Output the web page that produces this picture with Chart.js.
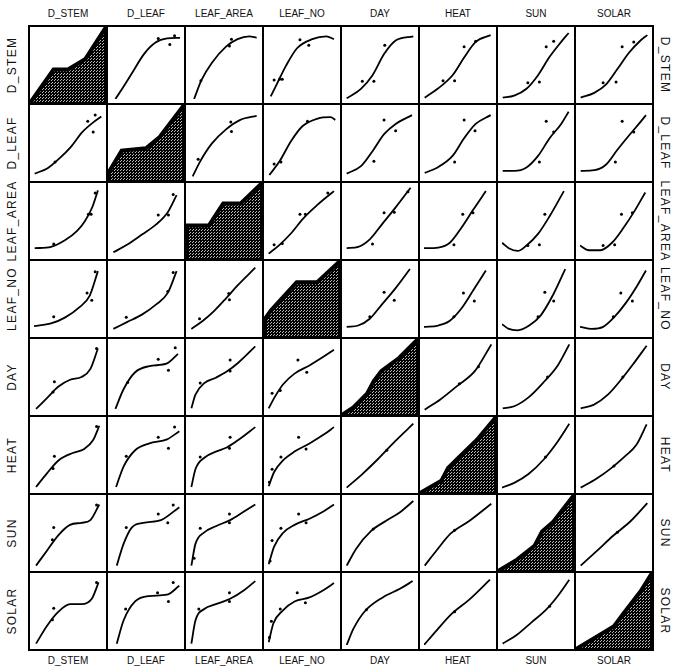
<!DOCTYPE html>
<html>
<head>
<meta charset="utf-8">
<script src="https://cdn.jsdelivr.net/npm/chart.js@4"></script>
<style>
    body { margin: 0; background: #fff; width: 675px; height: 671px; position: relative; overflow: hidden; }
    #matrix {
        position: absolute; left: 28px; top: 25px;
        display: grid;
        grid-template-columns: repeat(8, 76px);
        grid-template-rows: repeat(8, 76px);
        gap: 2px; padding: 2px; background: #000;
    }
    #matrix div { background: #fff; width: 76px; height: 76px; }
    .lbl { position: absolute; color: #111; white-space: nowrap; transform: translate(-50%, -50%); }
    .top, .bottom { font: 10px "Liberation Sans Narrow", "Liberation Sans", sans-serif; }
    .left, .right { font: 12px "Liberation Sans", sans-serif; letter-spacing: 1.3px; }
    .left { transform: translate(-50%, -50%) rotate(-90deg); }
    .right { transform: translate(-50%, -50%) rotate(90deg); }
</style>
</head>
<body>
<div id="matrix"></div>
<script>
const variables = ['D_STEM', 'D_LEAF', 'LEAF_AREA', 'LEAF_NO', 'DAY', 'HEAT', 'SUN', 'SOLAR'];

// fitted curves, one list per row (y variable), one entry per column (x variable)
// values are in percent of each variable's range; the diagonal entry is the distribution outline
const curvesD_STEM = [
    [[0,0],[31,44],[50,44],[73,58],[100,100]],
    [[5,0],[15,15],[30,39],[47,66],[64,83],[81,89],[100,90]],
    [[6,0],[17,28],[32,53],[53,77],[70,88],[87,92],[98,90]],
    [[4,4],[13,22],[26,48],[43,75],[65,88],[86,92],[97,88]],
    [[1,1],[22,15],[39,35],[56,66],[73,86],[99,92]],
    [[1,2],[20,15],[42,35],[59,61],[76,84],[98,94]],
    [[1,2],[18,5],[36,15],[53,35],[70,62],[87,84],[98,97]],
    [[1,2],[21,9],[38,21],[55,44],[72,68],[89,86],[99,94]]
];
const curvesD_LEAF = [
    [[1,5],[20,13],[37,27],[54,44],[71,66],[88,81],[99,89]],
    [[0,0],[0,10],[18,40],[50,43],[68,58],[100,100]],
    [[4,1],[15,23],[32,49],[53,70],[74,84],[98,90]],
    [[2,3],[17,23],[34,53],[51,75],[73,86],[92,88],[99,84]],
    [[1,5],[22,16],[39,38],[56,63],[73,78],[97,91]],
    [[1,6],[20,14],[42,31],[59,57],[76,78],[98,91]],
    [[1,9],[18,9],[36,14],[53,31],[70,57],[87,78],[98,96]],
    [[1,9],[21,10],[38,18],[55,40],[72,61],[89,81],[97,91]]
];
const curvesLEAF_AREA = [
    [[1,10],[25,12],[46,22],[63,35],[75,50],[86,71],[94,95]],
    [[2,4],[22,15],[44,30],[65,45],[82,63],[95,88]],
    [[0,0],[1,44],[30,44],[49,73],[72,73],[100,100]],
    [[1,2],[17,15],[34,32],[52,54],[73,74],[97,94]],
    [[1,10],[18,12],[35,23],[52,44],[73,70],[95,99]],
    [[0,10],[21,11],[38,18],[55,40],[72,66],[91,94]],
    [[0,18],[10,10],[23,6],[36,14],[53,31],[70,57],[91,94]],
    [[0,14],[13,7],[30,7],[47,18],[64,40],[81,66],[96,92]]
];
const curvesLEAF_NO = [
    [[0,10],[25,14],[46,23],[67,38],[82,55],[94,91]],
    [[2,6],[22,16],[44,27],[65,42],[82,59],[95,91]],
    [[2,6],[19,18],[36,33],[53,51],[70,70],[96,96]],
    [[0,0],[2,25],[9,35],[43,72],[70,72],[100,100]],
    [[1,9],[18,11],[35,21],[52,41],[73,66],[94,94]],
    [[0,9],[21,11],[38,18],[55,36],[72,62],[91,92]],
    [[0,13],[10,6],[23,4],[40,11],[57,26],[74,54],[93,94]],
    [[0,9],[17,6],[34,9],[51,24],[68,45],[85,71],[97,92]]
];
const curvesDAY = [
    [[3,3],[19,19],[36,36],[53,46],[70,50],[83,62],[94,92]],
    [[5,3],[17,32],[34,57],[55,66],[81,70],[97,84]],
    [[2,4],[8,24],[21,41],[38,49],[54,58],[71,71],[96,95]],
    [[1,4],[9,19],[22,39],[39,55],[61,67],[82,80],[97,90]],
    [[0,0],[15,10],[33,28],[42,45],[52,58],[75,75],[100,100]],
    [[1,2],[24,17],[49,37],[75,59],[99,98]],
    [[1,4],[18,7],[39,20],[60,41],[82,67],[99,98]],
    [[1,4],[20,9],[41,24],[62,48],[79,70],[98,96]]
];
const curvesHEAT = [
    [[3,3],[19,23],[36,42],[57,53],[74,59],[87,72],[96,93]],
    [[6,3],[17,33],[34,57],[55,67],[81,73],[99,85]],
    [[2,3],[8,29],[21,46],[38,55],[54,61],[71,72],[96,91]],
    [[1,4],[9,25],[22,42],[39,55],[61,67],[82,80],[97,91]],
    [[1,2],[24,22],[46,43],[72,70],[99,96]],
    [[0,0],[28,16],[37,33],[50,46],[75,70],[100,100]],
    [[0,2],[18,9],[39,22],[61,43],[82,70],[99,96]],
    [[1,2],[24,15],[45,30],[66,48],[83,65],[98,95]]
];
const curvesSUN = [
    [[3,2],[19,24],[36,47],[53,62],[70,65],[83,69],[96,92]],
    [[7,2],[17,34],[29,58],[46,65],[72,69],[99,88]],
    [[2,2],[8,34],[21,51],[38,60],[59,69],[80,82],[96,92]],
    [[1,4],[9,30],[22,50],[39,62],[61,71],[82,82],[97,92]],
    [[1,2],[15,27],[37,53],[59,68],[80,81],[99,97]],
    [[1,2],[19,25],[39,49],[67,68],[99,93]],
    [[0,0],[25,15],[48,33],[58,52],[72,64],[100,100]],
    [[1,2],[24,23],[50,47],[75,68],[99,94]]
];
const curvesSOLAR = [
    [[3,2],[19,28],[36,49],[53,60],[70,60],[85,68],[95,92]],
    [[7,2],[17,36],[34,64],[55,72],[81,74],[99,87]],
    [[2,2],[8,36],[21,53],[38,60],[59,68],[80,81],[96,94]],
    [[1,4],[8,32],[22,51],[39,64],[61,70],[82,81],[97,91]],
    [[1,0],[11,24],[28,50],[54,70],[80,83],[98,94]],
    [[0,0],[19,22],[41,46],[67,67],[97,96]],
    [[1,2],[22,15],[43,33],[65,52],[82,72],[99,96]],
    [[0,0],[25,15],[50,30],[62,46],[85,76],[100,100]]
];

// observed points, same layout
const pointsD_STEM = [
    [], [[92,93],[85,80],[68,89]], [[61,88],[58,78],[16,27]], [[47,87],[60,79],[9,28],[17,29],[21,29]],
    [[57,79],[41,26],[24,26]], [[59,77],[45,27],[28,27],[76,85]], [[65,77],[76,85],[55,25],[38,24]], [[62,77],[79,84],[53,25],[34,24]]
];
const pointsD_LEAF = [
    [[79,82],[90,91],[87,66],[31,22]], [], [[60,81],[61,67],[12,26]], [[58,82],[9,19],[19,22]],
    [[56,84],[73,68],[41,23]], [[59,84],[75,68],[45,22]], [[65,82],[76,66],[55,22]], [[62,82],[79,66],[52,22]]
];
const pointsLEAF_AREA = [
    [[90,91],[84,60],[80,60],[29,16]], [[90,89],[83,59],[68,59]], [], [[47,60],[55,60],[9,15],[21,17],[88,91]],
    [[56,62],[71,63],[39,16],[91,93]], [[57,60],[72,62],[44,15]], [[63,60],[55,15],[38,14]], [[61,60],[77,62],[51,15],[34,14]]
];
const pointsLEAF_NO = [
    [[29,24],[78,59],[85,48],[90,90]], [[21,23],[82,61],[90,89]], [[14,21],[57,58],[58,49]], [],
    [[56,60],[71,48],[35,24]], [[58,59],[74,47],[44,24]], [[63,60],[76,47],[53,24]], [[60,59],[77,47],[49,24]]
];
const pointsDAY = [
    [[30,43],[28,28],[92,92]], [[23,42],[68,76],[83,60],[93,93]], [[15,41],[59,75],[59,59]], [[6,26],[44,75],[57,57],[18,30]],
    [], [[52,40],[80,65]], [[67,50]], [[63,50]]
];
const pointsHEAT = [
    [[30,48],[28,30],[92,92]], [[21,48],[68,76],[83,60],[92,91]], [[15,47],[59,76],[58,60]], [[6,29],[19,47],[45,76],[56,59],[2,10]],
    [[60,57]], [], [[64,47]], [[50,34]]
];
const pointsSUN = [
    [[29,58],[27,40],[92,91]], [[21,58],[68,78],[82,65],[90,91]], [[15,57],[58,78],[58,65],[6,13]], [[6,39],[19,57],[45,78],[56,65],[3,9]],
    [[40,56]], [[45,54]], [], [[55,51]]
];
const pointsSOLAR = [
    [[29,54],[27,37],[92,92]], [[20,53],[67,77],[83,64],[90,92]], [[13,53],[58,77],[58,64]], [[5,35],[18,53],[43,77],[55,62],[2,11]],
    [[30,52]], [[45,49]], [[70,57]], []
];

const curveRows = [curvesD_STEM, curvesD_LEAF, curvesLEAF_AREA, curvesLEAF_NO, curvesDAY, curvesHEAT, curvesSUN, curvesSOLAR];
const pointRows = [pointsD_STEM, pointsD_LEAF, pointsLEAF_AREA, pointsLEAF_NO, pointsDAY, pointsHEAT, pointsSUN, pointsSOLAR];

// halftone fill for the diagonal cells
function makeDots() {
    const c = document.createElement('canvas');
    c.width = 3; c.height = 3;
    const ctx = c.getContext('2d');
    ctx.fillStyle = '#000';
    ctx.fillRect(0, 0, 3, 3);
    ctx.fillStyle = '#bbb';
    ctx.fillRect(1, 1, 1, 1);
    ctx.fillRect(0, 2, 1, 1);
    return ctx.createPattern(c, 'repeat');
}
const dots = makeDots();

function toXY(list) {
    return list.map(p => ({x: p[0], y: p[1]}));
}

function cellConfig(row, col) {
    const diag = row === col;
    const datasets = [{
        data: toXY(curveRows[row][col]),
        showLine: true,
        borderColor: '#000',
        borderWidth: diag ? 4 : 1.8,
        pointRadius: 0,
        tension: 0,
        cubicInterpolationMode: diag ? 'default' : 'monotone',
        fill: diag ? 'start' : false,
        backgroundColor: diag ? dots : 'transparent'
    }];
    if (diag) {
        // close the outline down the right side of the cell
        datasets[0].data.push({x: 100, y: 0});
    } else {
        datasets.push({
            data: toXY(pointRows[row][col]),
            pointRadius: 1.5,
            pointBackgroundColor: '#000',
            pointBorderWidth: 0,
            showLine: false
        });
    }
    return {
        type: 'scatter',
        data: {datasets: datasets},
        options: {
            responsive: false,
            animation: false,
            layout: {padding: 0},
            plugins: {legend: {display: false}, tooltip: {enabled: false}},
            scales: {
                x: {type: 'linear', min: 0, max: 100, display: false},
                y: {type: 'linear', min: 0, max: 100, display: false}
            }
        }
    };
}

const matrix = document.getElementById('matrix');
for (let r = 0; r < 8; r++) {
    for (let c = 0; c < 8; c++) {
        const cell = document.createElement('div');
        const canvas = document.createElement('canvas');
        canvas.width = 76;
        canvas.height = 76;
        cell.appendChild(canvas);
        matrix.appendChild(cell);
        new Chart(canvas, cellConfig(r, c));
    }
}

// variable names round the matrix
function addLabel(text, cls, x, y) {
    const el = document.createElement('div');
    el.className = 'lbl ' + cls;
    el.textContent = text;
    el.style.left = x + 'px';
    el.style.top = y + 'px';
    document.body.appendChild(el);
}
variables.forEach((name, k) => {
    const mid = 30 + 38 + k * 78;
    addLabel(name, 'top', mid, 13);
    addLabel(name, 'bottom', mid, 660);
    addLabel(name, 'left', 12, 27 + 38 + k * 78);
    addLabel(name, 'right', 665, 27 + 38 + k * 78);
});
</script>
</body>
</html>
